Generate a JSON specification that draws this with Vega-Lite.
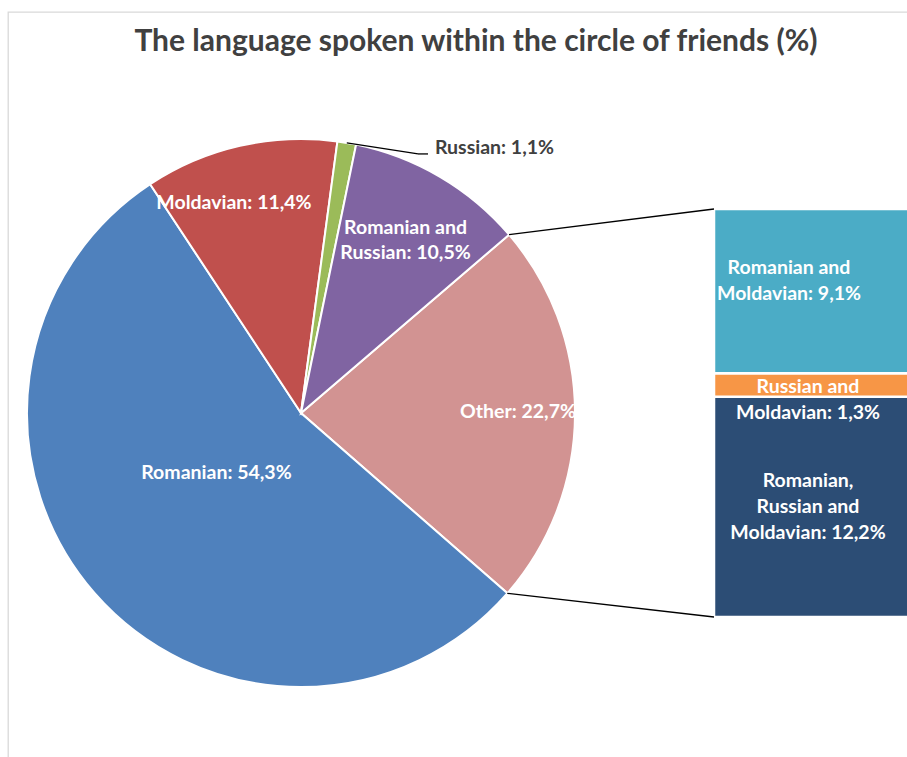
{
  "$schema": "https://vega.github.io/schema/vega-lite/v6.json",
  "width": 909,
  "height": 755,
  "autosize": {"type": "none"},
  "padding": {"left": 8, "top": 12, "right": -10, "bottom": -10},
  "background": "white",
  "title": {
    "text": "The language spoken within the circle of friends (%)",
    "anchor": "middle",
    "orient": "top",
    "offset": -69,
    "baseline": "alphabetic",
    "dx": 13.5,
    "font": "Lato",
    "fontSize": 30,
    "fontWeight": "bold",
    "color": "#404040"
  },
  "config": {
    "view": {"stroke": "#d9d9d9", "strokeWidth": 1.3},
    "font": "Lato"
  },
  "datasets": {
    "pie": [
      {"category": "Other", "display": "Other", "value": 22.7, "order": 1},
      {"category": "Romanian", "display": "Romanian", "value": 54.3, "order": 2},
      {"category": "Moldavian", "display": "Moldavian", "value": 11.4, "order": 3},
      {"category": "Russian", "display": "Russian", "value": 1.1, "order": 4},
      {"category": "Romanian and Russian", "display": "Romanian and\nRussian", "value": 10.5, "order": 5}
    ],
    "other": [
      {"category": "Romanian, Russian and Moldavian", "display": "Romanian,\nRussian and\nMoldavian", "value": 12.2, "order": 1},
      {"category": "Russian and Moldavian", "display": "Russian and\nMoldavian", "value": 1.3, "order": 2},
      {"category": "Romanian and Moldavian", "display": "Romanian and\nMoldavian", "value": 9.1, "order": 3}
    ]
  },
  "layer": [
    {
      "data": {"name": "pie"},
      "transform": [
        {"calculate": "datum.display + ': ' + replace(format(datum.value, '.1f'), '.', ',') + '%'", "as": "label"}
      ],
      "encoding": {
        "x": {"datum": 301, "type": "quantitative", "scale": {"domain": [8, 917], "nice": false, "zero": false}, "axis": null},
        "y": {"datum": 11.3, "type": "quantitative", "scale": {"domain": [-8.309, 33.512], "nice": false, "zero": false}, "axis": null},
        "theta": {"field": "value", "type": "quantitative", "stack": true, "scale": {"domain": [0, 100], "range": [0.8622, 7.1454]}},
        "order": {"field": "order", "type": "quantitative"}
      },
      "layer": [
        {
          "mark": {"type": "arc", "outerRadius": 274, "stroke": "white", "strokeWidth": 2},
          "encoding": {
            "color": {
              "field": "category",
              "type": "nominal",
              "legend": null,
              "scale": {
                "domain": ["Other", "Romanian", "Moldavian", "Russian", "Romanian and Russian", "Romanian and Moldavian", "Russian and Moldavian", "Romanian, Russian and Moldavian"],
                "range": ["#D29392", "#4F81BD", "#C0504D", "#9BBB59", "#8064A2", "#4BACC6", "#F79646", "#2C4D75"]
              }
            }
          }
        },
        {
          "mark": {
            "type": "text",
            "font": "Lato",
            "fontSize": 19.5,
            "fontWeight": "bold",
            "lineBreak": "\n",
            "lineHeight": 25,
            "baseline": "middle",
            "radius": {"expr": "datum.category === 'Romanian' ? 103 : datum.category === 'Moldavian' ? 220 : datum.category === 'Russian' ? 269 : datum.category === 'Other' ? 217 : 202"},
            "dx": {"expr": "datum.category === 'Romanian' ? -7 : datum.category === 'Moldavian' ? -18 : datum.category === 'Russian' ? 89 : datum.category === 'Other' ? 0 : 2"},
            "dy": {"expr": "datum.category === 'Romanian' ? -8 : datum.category === 'Moldavian' ? 4 : datum.category === 'Russian' ? 0 : datum.category === 'Other' ? -2 : -11"},
            "align": {"expr": "datum.category === 'Russian' ? 'left' : 'center'"},
            "fill": {"expr": "datum.category === 'Russian' ? '#404040' : 'white'"}
          },
          "encoding": {"text": {"field": "label"}}
        }
      ]
    },
    {
      "data": {"name": "other"},
      "transform": [
        {"stack": "value", "groupby": [], "sort": [{"field": "order"}], "as": ["y0", "y1"]},
        {"calculate": "(datum.y0 + datum.y1) / 2", "as": "mid"},
        {"calculate": "datum.display + ': ' + replace(format(datum.value, '.1f'), '.', ',') + '%'", "as": "label"}
      ],
      "layer": [
        {
          "mark": {"type": "bar", "stroke": "white", "strokeWidth": 2.5},
          "encoding": {
            "x": {"datum": 714, "type": "quantitative"},
            "x2": {"datum": 912},
            "y": {"field": "y0", "type": "quantitative"},
            "y2": {"field": "y1"},
            "color": {"field": "category", "type": "nominal", "legend": null}
          }
        },
        {
          "mark": {
            "type": "text",
            "font": "Lato",
            "fontSize": 19.5,
            "fontWeight": "bold",
            "lineBreak": "\n",
            "lineHeight": 26,
            "baseline": "middle",
            "align": "center",
            "fill": "white",
            "dx": {"expr": "datum.category === 'Romanian and Moldavian' ? -24 : -5"},
            "dy": {"expr": "datum.category === 'Romanian and Moldavian' ? -23 : datum.category === 'Russian and Moldavian' ? 2 : -26"}
          },
          "encoding": {
            "x": {"datum": 813, "type": "quantitative"},
            "y": {"field": "mid", "type": "quantitative"},
            "text": {"field": "label"}
          }
        }
      ]
    },
    {
      "data": {"values": [{}]},
      "mark": {"type": "rule", "color": "#000000", "strokeWidth": 1.3},
      "encoding": {
        "x": {"datum": 509, "type": "quantitative"},
        "y": {"datum": 21.18, "type": "quantitative"},
        "x2": {"datum": 714},
        "y2": {"datum": 22.6}
      }
    },
    {
      "data": {"values": [{}]},
      "mark": {"type": "rule", "color": "#000000", "strokeWidth": 1.3},
      "encoding": {
        "x": {"datum": 507.3, "type": "quantitative"},
        "y": {"datum": 1.31, "type": "quantitative"},
        "x2": {"datum": 714},
        "y2": {"datum": 0}
      }
    },
    {
      "data": {"values": [{}]},
      "mark": {"type": "rule", "color": "#000000", "strokeWidth": 1.3},
      "encoding": {
        "x": {"datum": 346.8, "type": "quantitative"},
        "y": {"datum": 26.26, "type": "quantitative"},
        "x2": {"datum": 418},
        "y2": {"datum": 25.65}
      }
    },
    {
      "data": {"values": [{}]},
      "mark": {"type": "rule", "color": "#000000", "strokeWidth": 1.3},
      "encoding": {
        "x": {"datum": 418, "type": "quantitative"},
        "y": {"datum": 25.65, "type": "quantitative"},
        "x2": {"datum": 428},
        "y2": {"datum": 25.65}
      }
    }
  ]
}
